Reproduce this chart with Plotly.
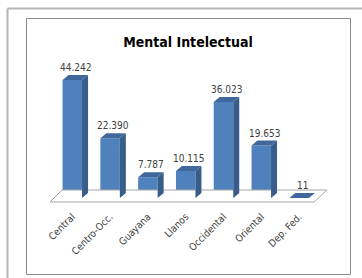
import plotly.graph_objects as go

# ---- data ----
categories = ["Central", "Centro-Occ.", "Guayana", "Llanos", "Occidental", "Oriental", "Dep. Fed."]
values = [44242, 22390, 7787, 10115, 36023, 19653, 11]
title_text = "Mental Intelectual"

# ---- layout constants (pixels) ----
W, H = 362, 278
CX0, STEP = 72.3, 37.8          # pixel of first category, pixel per category
PLOT_BOTTOM = 208               # pixel row of plot-area bottom
BASE_PX = 198                   # pixel row of value 0
UNITS_PER_PX = 44242 / 118.0

x0 = -CX0 / STEP
x1 = x0 + W / STEP
y_lo = -(PLOT_BOTTOM - BASE_PX) * UNITS_PER_PX
y_hi = BASE_PX * UNITS_PER_PX

def dx_px(p):
    return x0 + p / STEP

def dy_px(p):
    return (BASE_PX - p) * UNITS_PER_PX

def paper_x(p):
    return p / W

def paper_y(p):
    return (PLOT_BOTTOM - p) / PLOT_BOTTOM

BAR_W = 19.5 / STEP
DEPTH_X = 6 / STEP
DEPTH_Y = 5 * UNITS_PER_PX

FRONT = "#4f81bd"
SIDE = "#385d8a"
TOP = "#41689c"
TXT = "#404040"
FONT = "Liberation Sans Narrow, DejaVu Sans Condensed, Liberation Sans, sans-serif"

idx = list(range(len(categories)))

fig = go.Figure()

# floor
fx = [dx_px(50), dx_px(62), dx_px(327), dx_px(314), dx_px(50)]
fy = [dy_px(202), dy_px(190), dy_px(190), dy_px(202), dy_px(202)]
fig.add_trace(go.Scatter(x=fx, y=fy, mode="lines", fill="toself",
                         fillcolor="white", line=dict(color="#a6a6a6", width=1),
                         hoverinfo="skip", showlegend=False))

# front faces
fig.add_trace(go.Bar(x=idx, y=values, width=BAR_W, marker=dict(color=FRONT, line=dict(width=0)),
                     hoverinfo="skip", showlegend=False))

# side and top faces
sx, sy, tx, ty = [], [], [], []
for i, v in zip(idx, values):
    r = i + BAR_W / 2
    l = i - BAR_W / 2
    sx += [r, r + DEPTH_X, r + DEPTH_X, r, r, None]
    sy += [0, DEPTH_Y, v + DEPTH_Y, v, 0, None]
    tx += [l, l + DEPTH_X, r + DEPTH_X, r, l, None]
    ty += [v, v + DEPTH_Y, v + DEPTH_Y, v, v, None]
fig.add_trace(go.Scatter(x=sx, y=sy, mode="none", fill="toself", fillcolor=SIDE,
                         hoverinfo="skip", showlegend=False))
fig.add_trace(go.Scatter(x=tx, y=ty, mode="none", fill="toself", fillcolor=TOP,
                         hoverinfo="skip", showlegend=False))

def fmt(v):
    return f"{v:,}".replace(",", ".")

annotations = []
for i, v in zip(idx, values):
    annotations.append(dict(x=i + DEPTH_X / 2, y=v + DEPTH_Y, text=fmt(v), showarrow=False,
                            xanchor="center", yanchor="bottom", yshift=0,
                            font=dict(family=FONT, size=10, color=TXT)))

shapes = [
    # outer frame (left + top)
    dict(type="line", xref="paper", yref="paper", x0=paper_x(7.5), x1=paper_x(7.5),
         y0=paper_y(8.5), y1=paper_y(280), line=dict(color="#b5b5b5", width=2)),
    dict(type="line", xref="paper", yref="paper", x0=paper_x(7.5), x1=paper_x(364),
         y0=paper_y(8.5), y1=paper_y(8.5), line=dict(color="#b5b5b5", width=2)),
    # inner frame
    dict(type="rect", xref="paper", yref="paper", x0=paper_x(26.5), x1=paper_x(350.5),
         y0=paper_y(274.5), y1=paper_y(18.5), line=dict(color="#8c8c8c", width=1)),
]

fig.update_layout(
    width=W, height=H,
    margin=dict(l=0, r=0, t=0, b=H - PLOT_BOTTOM, pad=0, autoexpand=False),
    paper_bgcolor="white", plot_bgcolor="rgba(0,0,0,0)",
    showlegend=False, hovermode=False,
    title=dict(text=f"<b>{title_text}</b>", x=188 / W, xanchor="center",
               y=1 - 42 / H, yanchor="middle", automargin=False,
               font=dict(family=FONT, size=14, color="black")),
    xaxis=dict(range=[x0, x1], tickmode="array", tickvals=idx, ticktext=categories,
               tickangle=-45, showgrid=False, zeroline=False, showline=False, automargin=False,
               ticks="", tickfont=dict(family=FONT, size=10, color=TXT), fixedrange=True),
    yaxis=dict(range=[y_lo, y_hi], visible=False, showgrid=False, zeroline=False,
               automargin=False, fixedrange=True),
    annotations=annotations,
    shapes=shapes,
)

fig.write_html("out.html", config={"displayModeBar": False, "staticPlot": True},
               post_script="document.body.style.margin='0';")
